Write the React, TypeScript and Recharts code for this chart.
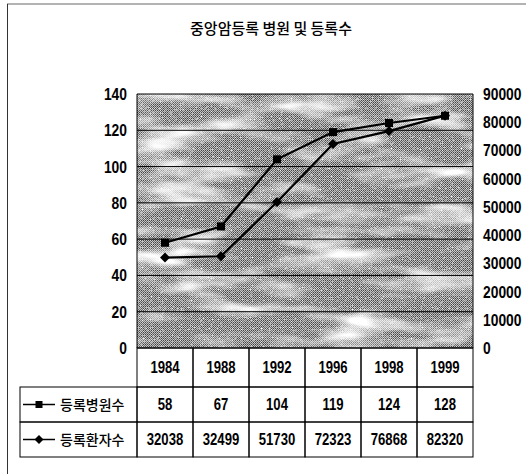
import React from 'react';
import { ComposedChart, Line, XAxis, YAxis, CartesianGrid, Customized } from 'recharts';

const title = '중앙암등록 병원 및 등록수';
const years = ['1984', '1988', '1992', '1996', '1998', '1999'];
const hospitals = [58, 67, 104, 119, 124, 128];
const patients = [32038, 32499, 51730, 72323, 76868, 82320];
const seriesNames = ['등록병원수', '등록환자수'];
const leftTicks = [0, 20, 40, 60, 80, 100, 120, 140];
const rightTicks = [0, 10000, 20000, 30000, 40000, 50000, 60000, 70000, 80000, 90000];

const data = years.map((y, i) => ({ year: y, hospitals: hospitals[i], patients: patients[i] }));

const W = 526;
const H = 474;
const M = { top: 94, right: 0, bottom: 17, left: 77 };
const LEFT_W = 60;
const RIGHT_W = 53;
const PLOT_X = M.left + LEFT_W;
const PLOT_R = W - M.right - RIGHT_W;
const CELL_W = (PLOT_R - PLOT_X) / years.length;
const CAT_H = 39;
const ROW_H = 35;
const PLOT_B = H - M.bottom - CAT_H - 2 * ROW_H;
const TABLE_L = 20;

const NUM_FONT = "'Liberation Sans', Arial, sans-serif";
const KR_FONT = "'Noto Sans CJK KR', sans-serif";

const NumText = ({ x, y, anchor, size, sx, children }: any) => (
  <text
    transform={`translate(${x},${y}) scale(${sx},1)`}
    textAnchor={anchor}
    dy="0.36em"
    fontFamily={NUM_FONT}
    fontSize={size}
    fontWeight="bold"
    fill="#000"
  >
    {children}
  </text>
);

const YTick = (props: any) => {
  const { x, y, payload, textAnchor } = props;
  return <NumText x={x} y={y} anchor={textAnchor} size={16.5} sx={0.84}>{payload.value}</NumText>;
};

const makeCellTick = (h: number, getText: (i: number) => string | number) => (props: any) => {
  const { x, y, payload } = props;
  const i = years.indexOf(payload.value);
  return (
    <g>
      <rect x={x - CELL_W / 2} y={y} width={CELL_W} height={h} fill="none" stroke="#000" strokeWidth={1} />
      <NumText x={x} y={y + h / 2} anchor="middle" size={16} sx={0.82}>{getText(i)}</NumText>
    </g>
  );
};

const CatTick = makeCellTick(CAT_H, (i) => years[i]);
const Row1Tick = makeCellTick(ROW_H, (i) => hospitals[i]);
const Row2Tick = makeCellTick(ROW_H, (i) => patients[i]);

const SquareDot = (props: any) => {
  const { cx, cy } = props;
  return <rect x={cx - 4} y={cy - 4} width={8} height={8} fill="#000" />;
};
const DiamondDot = (props: any) => {
  const { cx, cy } = props;
  return <polygon points={`${cx},${cy - 5} ${cx + 5},${cy} ${cx},${cy + 5} ${cx - 5},${cy}`} fill="#000" />;
};

const Decor = () => {
  const rowTop = PLOT_B + CAT_H;
  const markers = [
    (cx: number, cy: number) => <rect x={cx - 3.5} y={cy - 3.5} width={7} height={7} fill="#000" />,
    (cx: number, cy: number) => (
      <polygon points={`${cx},${cy - 4.5} ${cx + 4.5},${cy} ${cx},${cy + 4.5} ${cx - 4.5},${cy}`} fill="#000" />
    ),
  ];
  return (
    <g>
      <defs>
        <pattern id="dither" width="2" height="2" patternUnits="userSpaceOnUse">
          <rect width="2" height="2" fill="#c0c0c0" />
          <rect x="0" y="0" width="1" height="1" fill="#444" />
          <rect x="1" y="1" width="1" height="1" fill="#6a6a6a" />
        </pattern>
        <filter id="clouds" x="0" y="0" width="100%" height="100%">
          <feTurbulence type="fractalNoise" baseFrequency="0.012 0.045" numOctaves="3" seed="7" />
          <feColorMatrix type="matrix" values="0 0 0 0 1  0 0 0 0 1  0 0 0 0 1  3.2 0 0 0 -1.45" />
        </filter>
        <filter id="specks" x="0" y="0" width="100%" height="100%">
          <feTurbulence type="fractalNoise" baseFrequency="0.9" numOctaves="1" seed="3" />
          <feColorMatrix type="matrix" values="0 0 0 0 1  0 0 0 0 1  0 0 0 0 1  4 0 0 0 -2.3" />
        </filter>
        <pattern id="bg" x={PLOT_X} y={M.top} width={PLOT_R - PLOT_X} height={PLOT_B - M.top} patternUnits="userSpaceOnUse">
          <rect width={PLOT_R - PLOT_X} height={PLOT_B - M.top} fill="url(#dither)" />
          <rect width={PLOT_R - PLOT_X} height={PLOT_B - M.top} fill="#fff" filter="url(#clouds)" />
          <rect width={PLOT_R - PLOT_X} height={PLOT_B - M.top} fill="#fff" filter="url(#specks)" />
        </pattern>
      </defs>
      <line x1={7} y1={4} x2={W} y2={4} stroke="#666" strokeWidth={1} />
      <line x1={7.5} y1={4} x2={7.5} y2={H} stroke="#333" strokeWidth={1} />
      <text x={271} y={29} textAnchor="middle" dy="0.36em" fontFamily={KR_FONT} fontSize={15} fontWeight={500} fill="#000">
        {title}
      </text>
      {seriesNames.map((name, i) => {
        const top = rowTop + i * ROW_H;
        const cy = top + ROW_H / 2;
        return (
          <g key={name}>
            <rect x={TABLE_L} y={top} width={PLOT_X - TABLE_L} height={ROW_H} fill="none" stroke="#000" />
            <line x1={TABLE_L + 3} y1={cy} x2={TABLE_L + 35} y2={cy} stroke="#000" strokeWidth={1.5} />
            {markers[i](TABLE_L + 19, cy)}
            <text x={TABLE_L + 40} y={cy} dy="0.36em" fontFamily={KR_FONT} fontSize={14} fontWeight={500} fill="#000">
              {name}
            </text>
          </g>
        );
      })}
    </g>
  );
};

export default function App() {
  return (
    <div style={{ position: 'absolute', left: 0, top: 0, width: W, height: H, background: '#fff' }}>
      <ComposedChart width={W} height={H} data={data} margin={M}>
        <Customized component={Decor} />
        <CartesianGrid
          xAxisId="cat"
          yAxisId="left"
          vertical={false}
          stroke="#000"
          strokeWidth={1}
          fill="url(#bg)"
          fillOpacity={1}
        />
        <XAxis
          xAxisId="cat"
          dataKey="year"
          scale="band"
          orientation="bottom"
          height={CAT_H}
          interval={0}
          tickSize={0}
          tickMargin={0}
          tickLine={false}
          axisLine={false}
          tick={CatTick}
        />
        <XAxis
          xAxisId="r1"
          dataKey="year"
          scale="band"
          orientation="bottom"
          height={ROW_H}
          interval={0}
          tickSize={0}
          tickMargin={0}
          tickLine={false}
          axisLine={false}
          tick={Row1Tick}
        />
        <XAxis
          xAxisId="r2"
          dataKey="year"
          scale="band"
          orientation="bottom"
          height={ROW_H}
          interval={0}
          tickSize={0}
          tickMargin={0}
          tickLine={false}
          axisLine={false}
          tick={Row2Tick}
        />
        <YAxis
          yAxisId="left"
          orientation="left"
          width={LEFT_W}
          domain={[0, 140]}
          ticks={leftTicks}
          interval={0}
          tickSize={0}
          tickMargin={10}
          tickLine={false}
          axisLine={{ stroke: '#000', strokeWidth: 1 }}
          tick={YTick}
        />
        <YAxis
          yAxisId="right"
          orientation="right"
          width={RIGHT_W}
          domain={[0, 90000]}
          ticks={rightTicks}
          interval={0}
          tickSize={0}
          tickMargin={10}
          tickLine={false}
          axisLine={{ stroke: '#000', strokeWidth: 1 }}
          tick={YTick}
        />
        <Line
          xAxisId="cat"
          yAxisId="left"
          dataKey="hospitals"
          name={seriesNames[0]}
          stroke="#000"
          strokeWidth={2.2}
          dot={SquareDot}
          isAnimationActive={false}
        />
        <Line
          xAxisId="cat"
          yAxisId="right"
          dataKey="patients"
          name={seriesNames[1]}
          stroke="#000"
          strokeWidth={2.2}
          dot={DiamondDot}
          isAnimationActive={false}
        />
      </ComposedChart>
    </div>
  );
}
